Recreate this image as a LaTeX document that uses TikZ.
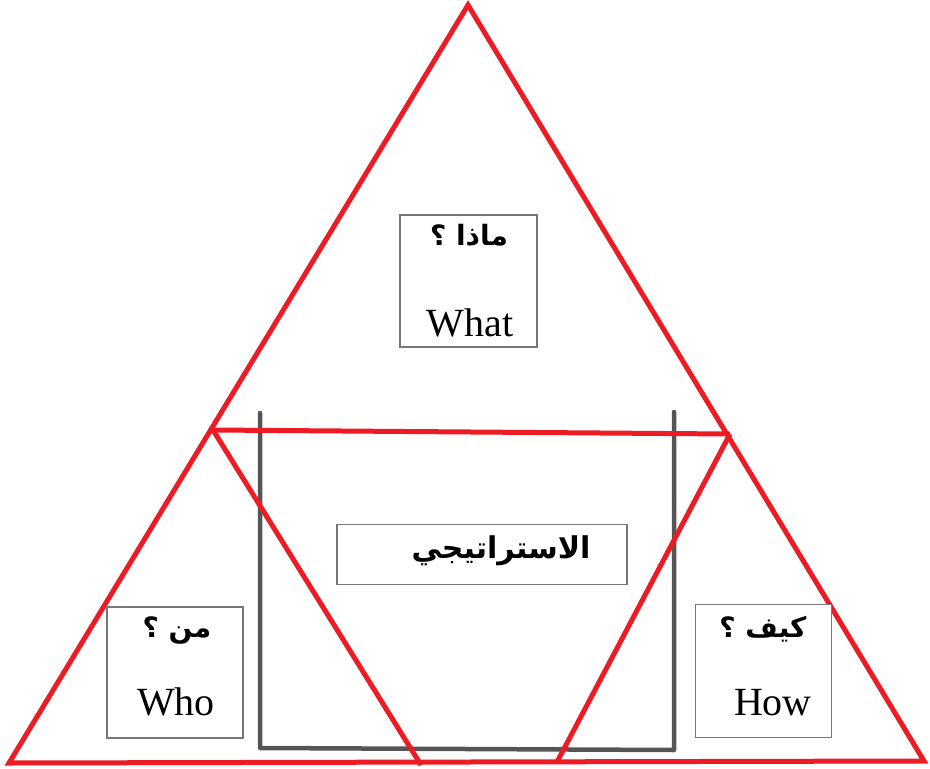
\documentclass[tikz,border=0pt]{standalone}
\usepackage{fontspec}
\setmainfont{Liberation Serif}
\newfontfamily\arabicfont[Script=Arabic]{DejaVu Sans}
\TeXXeTstate=1
\usetikzlibrary{positioning}
\definecolor{trired}{HTML}{ED1C24}
\definecolor{ugray}{HTML}{555555}
\definecolor{boxgray}{HTML}{777777}

\begin{document}
\begin{tikzpicture}[x=1pt,y=-1pt,
  redline/.style={draw=trired,line width=5pt,line join=miter},
  grayline/.style={draw=ugray,line width=4.5pt,line cap=round,line join=round},
  qbox/.style={rectangle,draw=boxgray,line width=1.6pt,fill=white,inner sep=0pt},
  artxt/.style={inner sep=0pt,anchor=base,font=\arabicfont\bfseries\fontsize{28}{32}\selectfont},
  entxt/.style={inner sep=0pt,anchor=base,font=\fontsize{40}{46}\selectfont}]
\useasboundingbox (0,0) rectangle (930,769);
% corner points
\coordinate (apex) at (468,5);
\coordinate (bl) at (9,763);
\coordinate (br) at (924,761);
\coordinate (ml) at (213,430);
\coordinate (mr) at (730,434);
\coordinate (lb) at (421,765);
\coordinate (rb) at (557,762);
% gray frame
\draw[grayline] (260,413) -- (260,748) -- (674,750) -- (674,412);
% triangles
\draw[redline] (apex) -- (bl) -- (br) -- cycle;
\draw[redline] (ml) -- (mr);
\draw[redline] (ml) -- (lb);
\draw[redline] (mr) -- (rb);
% boxes
\node[qbox,minimum width=137,minimum height=132] (what) at (468.5,281) {};
\node[qbox,minimum width=290,minimum height=60] (strat) at (482,554.5) {};
\node[qbox,minimum width=136,minimum height=131] (who) at (175,672.5) {};
\node[qbox,minimum width=136,minimum height=133] (how) at (763.5,671) {};
% texts
\node[artxt] (whatar) at (469,245) {\beginR ماذا ؟\endR};
\node[entxt] (whaten) at (470,336) {What};
\node[artxt,font=\arabicfont\bfseries\fontsize{30}{34}\selectfont] (stratar) at (501,558) {\beginR الاستراتيجي\endR};
\node[artxt] (whoar) at (177,637) {\beginR من ؟\endR};
\node[entxt] (whoen) at (176,715) {Who};
\node[artxt] (howar) at (763,637) {\beginR كيف ؟\endR};
\node[entxt] (howen) at (773,715) {How};
\end{tikzpicture}
\end{document}
